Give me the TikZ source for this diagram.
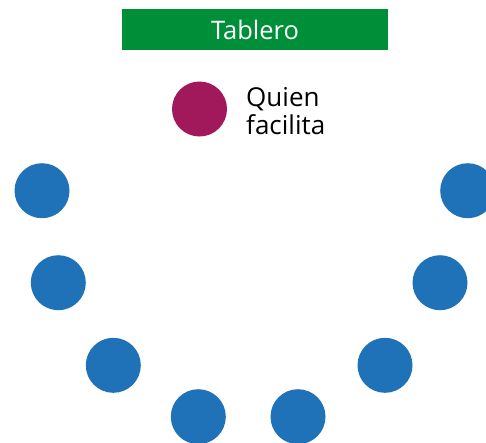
\documentclass[tikz,border=0pt]{standalone}
\usepackage{fontspec}
\setmainfont{Open Sans}
\definecolor{tgreen}{RGB}{0,143,57}
\definecolor{tmag}{RGB}{162,25,91}
\definecolor{tblue}{RGB}{31,114,184}
\begin{document}
\begin{tikzpicture}[x=1pt,y=-1pt,
  seat/.style={circle,fill=tblue,minimum size=55pt,inner sep=0pt},
  facil/.style={circle,fill=tmag,minimum size=55pt,inner sep=0pt},
  board/.style={fill=tgreen,text=white,minimum width=266pt,minimum height=41pt,inner sep=0pt,font=\fontsize{25.5}{28}\selectfont},
  lbl/.style={anchor=west,align=left,inner sep=0pt,font=\fontsize{26}{28}\selectfont}]
\useasboundingbox (0,0) rectangle (486,442);
\node[board] (tab) at (255,29.5) {Tablero};
\node[facil] (f) at (199.5,109) {};
\node[lbl] (q) at (246,111) {Quien\\facilita};
\node[seat] (s1) at (42,190.7) {};
\node[seat] (s2) at (58.3,282.7) {};
\node[seat] (s3) at (113.3,365.3) {};
\node[seat] (s4) at (198.3,416.7) {};
\node[seat] (s5) at (298,416.7) {};
\node[seat] (s6) at (385,365.3) {};
\node[seat] (s7) at (440,282.7) {};
\node[seat] (s8) at (467.7,190.7) {};
\end{tikzpicture}
\end{document}
